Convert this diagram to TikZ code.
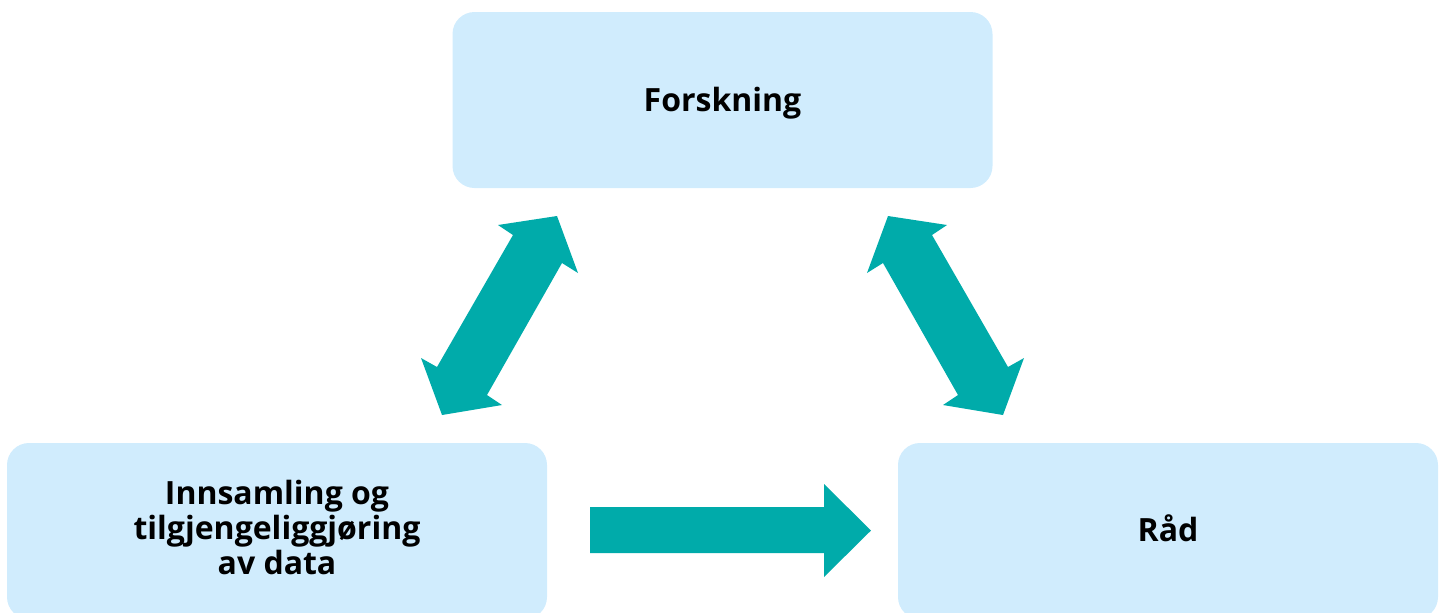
\documentclass[tikz,border=0pt]{standalone}
\usepackage{fontspec}
\setmainfont{Open Sans}
\definecolor{boxblue}{RGB}{208,236,253}
\definecolor{teal}{RGB}{0,171,170}
\begin{document}
\begin{tikzpicture}[x=0.5pt,y=-0.5pt,
  stage/.style={rectangle, rounded corners=11pt, fill=boxblue, draw=none,
    minimum width=270pt, minimum height=88pt, inner sep=0pt,
    align=center, font=\fontsize{16}{17.5}\selectfont\bfseries},
  blockarrow/.style={fill=teal, draw=none}]
\useasboundingbox (0,0) rectangle (1446,612);
\begin{scope}
\clip (0,0) rectangle (1446,612);
% the three stages
\node[stage, text height=15.2pt] (forsk) at (722.5,100) {Forskning};
\node[stage, text depth=3.2pt] (data) at (277,531) {Innsamling og\\tilgjengeliggjøring\\av data};
\node[stage, text depth=3pt] (raad) at (1168,531) {Råd};
\end{scope}
% data <-> forskning
\fill[blockarrow] (557,216) -- (578,273) -- (562,263) -- (487,395) -- (502,405)
  -- (442,415) -- (421,358) -- (437,367) -- (513,235) -- (498,225) -- cycle;
% forskning <-> råd
\fill[blockarrow] (888,216) -- (867,273) -- (883,263) -- (958,395) -- (943,405)
  -- (1003,415) -- (1024,358) -- (1008,367) -- (932,235) -- (947,225) -- cycle;
% data -> råd
\fill[blockarrow] (590,507) -- (824,507) -- (824,484) -- (871,530.5)
  -- (824,577) -- (824,553) -- (590,553) -- cycle;
\end{tikzpicture}
\end{document}
